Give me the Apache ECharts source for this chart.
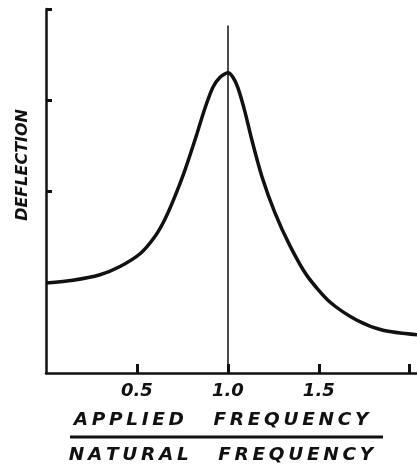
<!DOCTYPE html>
<html lang="en">
<head>
    <meta charset="UTF-8" />
    <title>Deflection vs frequency ratio</title>
    <script src="https://cdn.jsdelivr.net/npm/echarts@6/dist/echarts.min.js"></script>
    <style>
        html, body { margin: 0; padding: 0; background: #fff; }
        #main { width: 417px; height: 464px; }
    </style>
</head>
<body>
<div id="main"></div>
<script>
    // frequency ratio (applied / natural) and deflection
    var ratio = [0, 0.148, 0.297, 0.407, 0.517, 0.599, 0.654, 0.709, 0.764, 0.819, 0.874, 0.918, 0.957,
                 1.0, 1.028, 1.056, 1.094, 1.132, 1.187, 1.259, 1.341, 1.435, 1.561, 1.71, 1.853, 2.04];
    var deflection = [0.99, 1.02, 1.08, 1.17, 1.31, 1.50, 1.69, 1.94, 2.23, 2.56, 2.91, 3.14, 3.25,
                      3.30, 3.25, 3.13, 2.87, 2.56, 2.16, 1.76, 1.40, 1.07, 0.78, 0.58, 0.47, 0.42];
    var xTicks = [0.5, 1.0, 1.5, 2.0];
    var xLabels = [0.5, 1.0, 1.5];
    var yTicks = [1, 2, 3, 4];
    var resonance = 1.0;
    var resonanceTop = 3.82;
    var yTitle = 'DEFLECTION';
    var xTitleTop = ['APPLIED', 'FREQUENCY'];
    var xTitleBottom = ['NATURAL', 'FREQUENCY'];

    var ink = '#111';
    var font = 'DejaVu Sans';

    function spaced(words) {
        // hand lettering is wide, pad letters with thin spaces
        return words.map(function (w) { return w.split('').join('\u2009'); }).join('\u2009    ');
    }

    var points = ratio.map(function (r, i) { return [r, deflection[i]]; });

    var chart = echarts.init(document.getElementById('main'));
    chart.setOption({
        backgroundColor: '#fff',
        animation: false,
        grid: { left: 46, right: 0, top: 9, bottom: 91 },
        xAxis: {
            type: 'value',
            min: 0,
            max: 2.04,
            splitLine: { show: false },
            axisLine: { lineStyle: { color: ink, width: 2.5 } },
            axisTick: { inside: true, length: 9, customValues: xTicks, lineStyle: { color: ink, width: 3 } },
            axisLabel: {
                customValues: xLabels,
                margin: 9,
                color: ink,
                fontFamily: font,
                fontStyle: 'italic',
                fontWeight: 'bold',
                fontSize: 18,
                formatter: function (v) { return v.toFixed(1); }
            }
        },
        yAxis: {
            type: 'value',
            min: 0,
            max: 4,
            splitLine: { show: false },
            axisLine: { lineStyle: { color: ink, width: 2.5 } },
            axisTick: { inside: true, length: 6, customValues: yTicks, lineStyle: { color: ink, width: 3 } },
            axisLabel: { show: false }
        },
        graphic: [
            {
                type: 'text', left: 15, top: 109, rotation: Math.PI / 2,
                style: {
                    text: yTitle, fill: ink, fontFamily: font, fontStyle: 'italic',
                    fontWeight: 'bold', fontSize: 16
                }
            },
            {
                type: 'text', x: 221, y: 420,
                style: {
                    text: spaced(xTitleTop), fill: ink, fontFamily: font, fontStyle: 'italic',
                    fontWeight: 'bold', fontSize: 18.5, align: 'center', verticalAlign: 'middle'
                }
            },
            {
                type: 'line', shape: { x1: 70, y1: 437, x2: 383, y2: 437 },
                style: { stroke: ink, lineWidth: 3 }
            },
            {
                type: 'text', x: 221, y: 455,
                style: {
                    text: spaced(xTitleBottom), fill: ink, fontFamily: font, fontStyle: 'italic',
                    fontWeight: 'bold', fontSize: 18.5, align: 'center', verticalAlign: 'middle'
                }
            }
        ],
        series: [
            {
                type: 'line',
                data: points,
                smooth: 0.25,
                showSymbol: false,
                lineStyle: { color: ink, width: 3.5 },
                markLine: {
                    silent: true,
                    symbol: 'none',
                    label: { show: false },
                    lineStyle: { color: ink, width: 1.5, type: 'solid' },
                    data: [[{ coord: [resonance, 0] }, { coord: [resonance, resonanceTop] }]]
                }
            }
        ]
    });
</script>
</body>
</html>
